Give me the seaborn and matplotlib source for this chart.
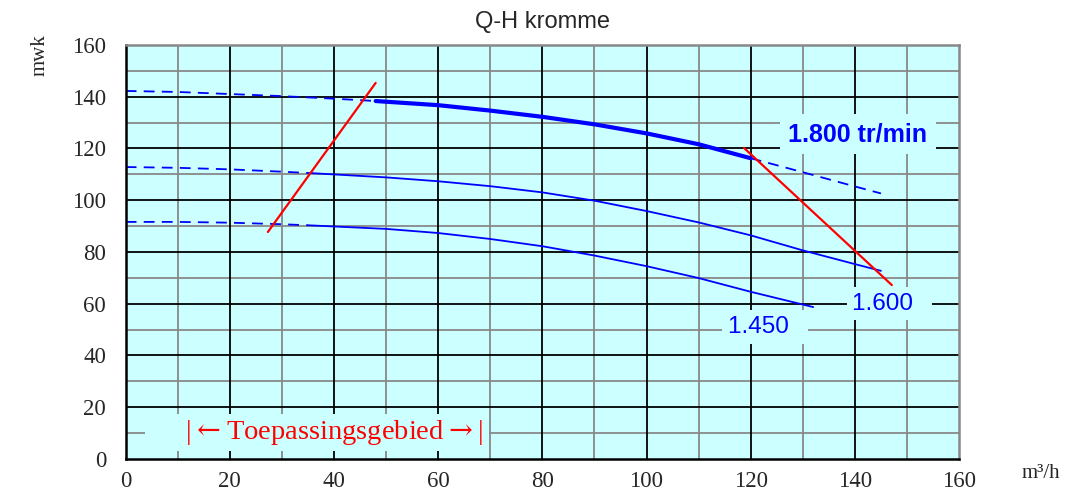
import pandas as pd
import seaborn as sns
import matplotlib.pyplot as plt

# Q-H curves (flow m3/h, head mwk)
q_1800_dash_l = [0, 10, 20, 30, 40, 48]
h_1800_dash_l = [142.2, 141.8, 141.0, 140.2, 139.2, 138.3]
q_1800 = [48, 60, 70, 80, 90, 100, 110, 120]
h_1800 = [138.3, 136.7, 134.6, 132.2, 129.3, 125.8, 121.6, 116.2]
q_1800_dash_r = [120, 130, 140, 145]
h_1800_dash_r = [116.2, 110.8, 105.3, 102.6]

q_1600_dash = [0, 10, 20, 30, 36]
h_1600_dash = [112.8, 112.5, 111.9, 111.0, 110.4]
q_1600 = [36, 50, 60, 70, 80, 90, 100, 110, 120, 130, 140, 145]
h_1600 = [110.4, 108.8, 107.3, 105.4, 103.0, 99.8, 95.8, 91.4, 86.4, 80.6, 75.3, 72.7]

q_1450_dash = [0, 10, 20, 30, 35]
h_1450_dash = [91.6, 91.6, 91.3, 90.7, 90.3]
q_1450 = [35, 50, 60, 70, 80, 90, 100, 110, 120, 132]
h_1450 = [90.3, 88.9, 87.3, 85.0, 82.2, 78.6, 74.5, 69.9, 64.6, 58.7]

# application range limits
lim_left_q = [27.3, 48.0]
lim_left_h = [87.7, 145.3]
lim_right_q = [118.7, 147.1]
lim_right_h = [120.2, 67.2]

x_ticks = [0, 20, 40, 60, 80, 100, 120, 140, 160]
y_ticks = [0, 20, 40, 60, 80, 100, 120, 140, 160]

sns.set_style("white")
plt.rcParams['font.family'] = ['Liberation Serif', 'DejaVu Serif']
plt.rcParams['mathtext.fontset'] = 'dejavuserif'

fig, ax = plt.subplots(figsize=(10.65, 4.93), dpi=100)
fig.subplots_adjust(left=0.118, right=0.9005, top=0.909, bottom=0.069)
ax.set_facecolor('#ccffff')

# grid
for v in range(10, 160, 20):
    ax.axvline(v, color='#888888', lw=1.3, zorder=0)
    ax.axhline(v, color='#888888', lw=1.3, zorder=0)
for v in range(20, 160, 20):
    ax.axvline(v, color='#000000', lw=1.3, zorder=0)
    ax.axhline(v, color='#000000', lw=1.3, zorder=0)

blue = '#0000ff'
dash = (6, 4)
sns.lineplot(x=q_1800_dash_l, y=h_1800_dash_l, ax=ax, color=blue, lw=1.3, linestyle=(0, dash))
sns.lineplot(x=q_1800, y=h_1800, ax=ax, color=blue, lw=3)
sns.lineplot(x=q_1800_dash_r, y=h_1800_dash_r, ax=ax, color=blue, lw=1.3, linestyle=(0, dash))
sns.lineplot(x=q_1600_dash, y=h_1600_dash, ax=ax, color=blue, lw=1.3, linestyle=(0, dash))
sns.lineplot(x=q_1600, y=h_1600, ax=ax, color=blue, lw=1.3)
sns.lineplot(x=q_1450_dash, y=h_1450_dash, ax=ax, color=blue, lw=1.3, linestyle=(0, dash))
sns.lineplot(x=q_1450, y=h_1450, ax=ax, color=blue, lw=1.3)

sns.lineplot(x=lim_left_q, y=lim_left_h, ax=ax, color='#ff0000', lw=1.6)
sns.lineplot(x=lim_right_q, y=lim_right_h, ax=ax, color='#ff0000', lw=1.6)

sans = ['Liberation Sans', 'DejaVu Sans']
box = dict(facecolor='#ccffff', edgecolor='none', pad=6)
small_box = dict(facecolor='#ccffff', edgecolor='none', pad=4)
ax.text(140.6, 125.5, '1.800 tr/min', color=blue, fontsize=18, fontweight='bold',
        family=sans, ha='center', va='center', bbox=box)
ax.text(139.5, 60.0, '1.600  ', color=blue, fontsize=17.5,
        family=sans, ha='left', va='center', bbox=small_box)
ax.text(115.6, 51.0, '1.450  ', color=blue, fontsize=17.5,
        family=sans, ha='left', va='center', bbox=small_box)
ax.text(36.8, 10.3, r'     |$\leftarrow$Toepassingsgebied$\rightarrow$| ', color='#ff0000',
        fontsize=20.5, ha='center', va='center',
        bbox=dict(facecolor='#ccffff', edgecolor='none', pad=3))

ax.set_xlim(0, 160)
ax.set_ylim(0, 160)
ax.set_xticks(x_ticks)
ax.set_yticks(y_ticks)
ax.tick_params(length=0, labelsize=16.5)
ax.tick_params(axis='x', pad=9)
ax.tick_params(axis='y', pad=14)
ax.set_xlabel('')
ax.set_ylabel('')
for side in ['left', 'bottom']:
    ax.spines[side].set_color('#000000')
    ax.spines[side].set_linewidth(1.8)
for side in ['top', 'right']:
    ax.spines[side].set_color('#888888')
    ax.spines[side].set_linewidth(1.8)

ax.set_title('Q-H kromme', family=sans, fontsize=17, pad=12)
fig.text(0.038, 0.93, 'mwk', rotation=90, fontsize=15, ha='center', va='top')
fig.text(0.977, 0.02, 'm³/h', fontsize=15, ha='center', va='bottom')

fig.savefig('out.png', dpi=100)
